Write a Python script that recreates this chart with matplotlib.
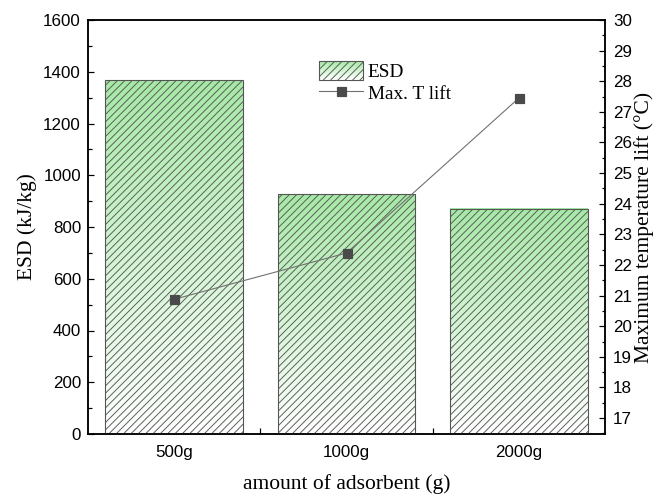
import numpy as np
import matplotlib
matplotlib.use('Agg')
import matplotlib.pyplot as plt
from matplotlib.patches import Rectangle
from matplotlib.legend_handler import HandlerBase
from matplotlib.colors import LinearSegmentedColormap
from matplotlib.ticker import MultipleLocator, FixedLocator

categories = ['500g', '1000g', '2000g']
esd = [1367, 926, 870]
tlift = [20.88, 22.39, 27.45]

DPI = 88
PT = 72 / DPI  # points per pixel

plt.rcParams['hatch.linewidth'] = 0.9 * PT
plt.rcParams['font.family'] = ['Liberation Sans', 'DejaVu Sans']

fig = plt.figure(figsize=(659 / DPI, 495 / DPI), dpi=DPI)
ax1 = fig.add_axes([88 / 659, 61 / 495, 517 / 659, 414 / 495])
ax2 = ax1.twinx()

GREEN = '#a6e9a6'
EDGE = '#555555'
HATCH = '////'
cmap = LinearSegmentedColormap.from_list('g', ['white', GREEN])

x = np.arange(len(categories))
width = 0.8
grad = np.linspace(0, 1, 256)[:, None]
bars = ax1.bar(x, esd, width, facecolor='none', edgecolor=EDGE, hatch=HATCH,
               linewidth=1.1 * PT, zorder=3)
for b in bars:
    x0, w, h = b.get_x(), b.get_width(), b.get_height()
    ax1.imshow(grad, cmap=cmap, extent=[x0, x0 + w, 0, h], origin='lower',
               aspect='auto', zorder=2, interpolation='bilinear')

ax1.set_xlim(-0.5, 2.5)
ax1.set_ylim(0, 1600)
ax1.yaxis.set_major_locator(MultipleLocator(200))
ax1.yaxis.set_minor_locator(MultipleLocator(100))
ax1.xaxis.set_major_locator(FixedLocator(x))
ax1.set_xticklabels(categories)
ax1.xaxis.set_minor_locator(FixedLocator([0.5, 1.5]))

line, = ax2.plot(x, tlift, color='#707070', lw=1.1 * PT, marker='s',
                 ms=9 * PT, mfc='#4a4a4a', mec='#4a4a4a', zorder=5)
ax2.set_ylim(16.48, 30)
ax2.yaxis.set_major_locator(MultipleLocator(1))
ax2.yaxis.set_minor_locator(MultipleLocator(0.5))

tick_fs = 17 * PT
label_fs = 21.5 * PT
legend_fs = 19.3 * PT
serif = ['Liberation Serif', 'DejaVu Serif']

for ax in (ax1, ax2):
    for s in ax.spines.values():
        s.set_linewidth(1.5 * PT)
        s.set_color('black')

ax1.tick_params(axis='both', which='both', direction='in', top=False, right=False,
                labelsize=tick_fs, width=1.2 * PT)
ax1.tick_params(axis='y', which='major', length=6 * PT, pad=7 * PT)
ax1.tick_params(axis='y', which='minor', length=3.5 * PT)
ax1.tick_params(axis='x', which='major', length=6 * PT, pad=11 * PT)
ax1.tick_params(axis='x', which='minor', length=6 * PT)
ax2.tick_params(axis='y', which='both', direction='in', left=False, right=True,
                labelsize=tick_fs, width=1.2 * PT)
ax2.tick_params(axis='y', which='major', length=6 * PT, pad=8 * PT)
ax2.tick_params(axis='y', which='minor', length=3.5 * PT)

ax1.set_xlabel('amount of adsorbent (g)', fontsize=label_fs, family=serif, labelpad=14 * PT)
ax1.set_ylabel('ESD (kJ/kg)', fontsize=label_fs, family=serif, labelpad=6 * PT)
ax2.set_ylabel('Maximum temperature lift (°C)', fontsize=label_fs, family=serif,
               labelpad=2 * PT)


class GradProxy:
    pass


class GradHandler(HandlerBase):
    def create_artists(self, legend, orig_handle, xdescent, ydescent, width,
                       height, fontsize, trans):
        arts = []
        n = 24
        for i in range(n):
            frac = (i + 0.5) / n
            r = Rectangle((-xdescent, -ydescent + i * height / n), width,
                          height / n * 1.05, facecolor=cmap(frac), edgecolor='none',
                          transform=trans)
            arts.append(r)
        r = Rectangle((-xdescent, -ydescent), width, height, facecolor='none',
                      edgecolor=EDGE, hatch=HATCH, lw=1.1 * PT, transform=trans)
        arts.append(r)
        return arts


leg = ax2.legend([GradProxy(), line], ['ESD', 'Max. T lift'],
                 handler_map={GradProxy: GradHandler()},
                 loc='upper left', bbox_to_anchor=(319 / 659, 1 - 61 / 495),
                 bbox_transform=fig.transFigure, frameon=False,
                 prop={'family': serif, 'size': legend_fs},
                 handlelength=2.28, handleheight=1.14, handletextpad=0.25,
                 labelspacing=0.1, borderpad=0, borderaxespad=0)
leg.set_zorder(10)

fig.savefig('out.png', dpi=DPI)
